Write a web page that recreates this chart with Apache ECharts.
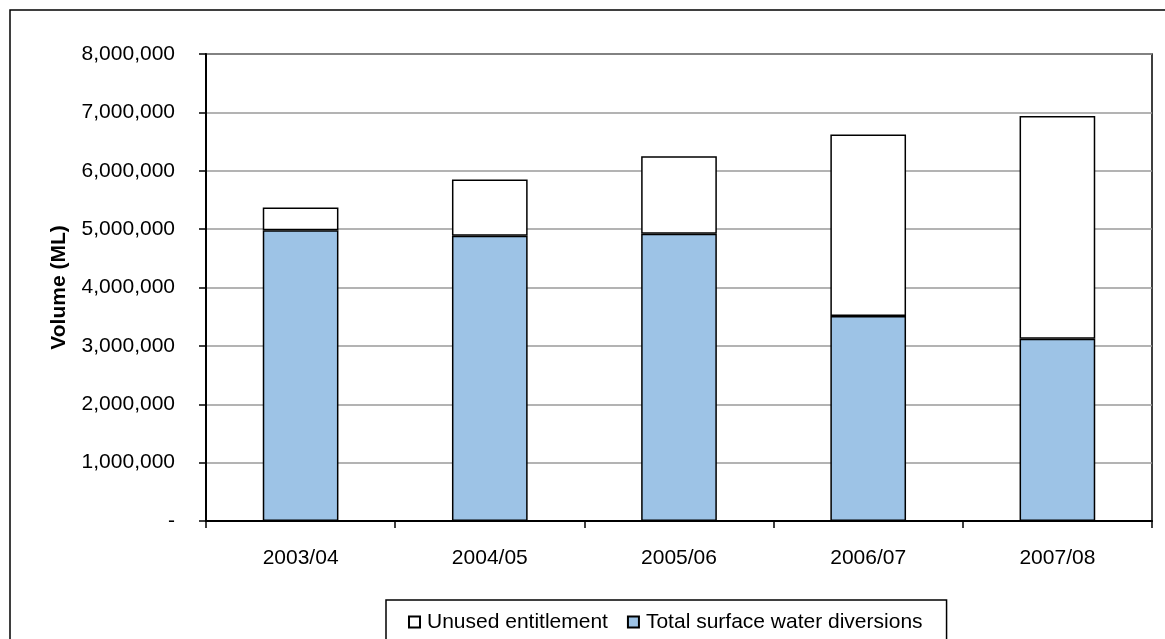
<!DOCTYPE html>
<html>
<head>
<meta charset="utf-8">
<script src="https://cdn.jsdelivr.net/npm/echarts@6/dist/echarts.min.js"></script>
<style>
  html, body { margin: 0; padding: 0; background: #fff; }
  #chart { width: 1165px; height: 639px; }
</style>
</head>
<body>
<div id="chart"></div>
<script>
// Financial years shown along the x axis
const years = ['2003/04', '2004/05', '2005/06', '2006/07', '2007/08'];
// Total surface water diversions (ML)
const diversions = [4980000, 4885000, 4920000, 3510000, 3120000];
// Unused entitlement stacked on top (ML)
const unusedEntitlement = [390000, 965000, 1330000, 3110000, 3820000];
// Value axis
const yMax = 8000000;
const yStep = 1000000;

const FONT = '"Liberation Sans", Arial, sans-serif';

function fmtVolume(v) {
  if (v === 0) return '-';
  return v.toString().replace(/\B(?=(\d{3})+(?!\d))/g, ',');
}

const chart = echarts.init(document.getElementById('chart'), null, { renderer: 'canvas' });

chart.setOption({
  backgroundColor: '#fff',
  animation: false,
  textStyle: { fontFamily: FONT },
  graphic: [{
    type: 'rect',
    shape: { x: 10, y: 10, width: 1170, height: 650 },
    style: { fill: 'none', stroke: '#000', lineWidth: 1.5 },
    silent: true,
    z: -1
  }],
  grid: {
    left: 206, right: 13, top: 54, bottom: 118,
    show: true, borderColor: '#000', borderWidth: 1.5,
    containLabel: false
  },
  legend: {
    data: ['Unused entitlement', 'Total surface water diversions'],
    left: 386, top: 600,
    orient: 'horizontal',
    padding: [11, 24, 11, 22],
    itemGap: 19,
    itemWidth: 11, itemHeight: 11,
    icon: 'rect',
    borderColor: '#000', borderWidth: 1.5,
    textStyle: { fontFamily: FONT, fontSize: 21, color: '#000', padding: [0, 0, 0, 2], lineHeight: 22 }
  },
  xAxis: {
    type: 'category',
    data: years,
    axisLine: { lineStyle: { color: '#000', width: 2 } },
    axisTick: { show: true, alignWithLabel: false, length: 7, lineStyle: { color: '#000', width: 1.5 } },
    axisLabel: { fontFamily: FONT, fontSize: 21, color: '#000', margin: 27 },
    splitLine: { show: false }
  },
  yAxis: {
    type: 'value',
    min: 0, max: yMax, interval: yStep,
    name: 'Volume (ML)',
    nameLocation: 'middle',
    nameGap: 136,
    nameTextStyle: { fontFamily: FONT, fontSize: 21, fontWeight: 'bold', color: '#000' },
    axisLine: { show: true, lineStyle: { color: '#000', width: 2 } },
    axisTick: { show: true, length: 7, lineStyle: { color: '#000', width: 1.5 } },
    axisLabel: { fontFamily: FONT, fontSize: 21, color: '#000', margin: 31, formatter: fmtVolume },
    splitLine: { show: true, lineStyle: { color: '#9a9a9a', width: 1.5 } }
  },
  series: [
    {
      name: 'Total surface water diversions',
      type: 'bar',
      stack: 'volume',
      barWidth: '40%',
      data: diversions,
      itemStyle: { color: '#9dc3e6', borderColor: '#000', borderWidth: 1.5 }
    },
    {
      name: 'Unused entitlement',
      type: 'bar',
      stack: 'volume',
      barWidth: '40%',
      data: unusedEntitlement,
      itemStyle: { color: '#ffffff', borderColor: '#000', borderWidth: 1.5 }
    }
  ]
});
</script>
</body>
</html>
